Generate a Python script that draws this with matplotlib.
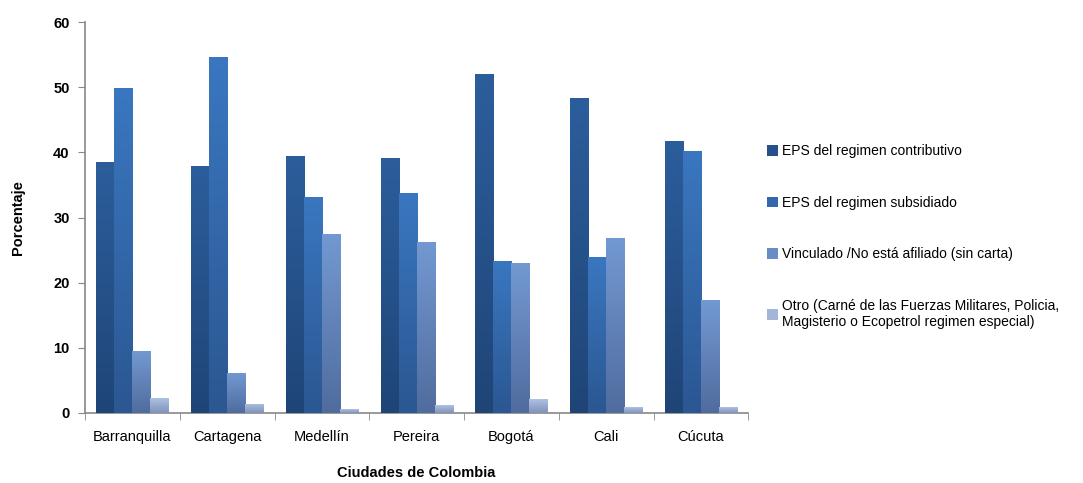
import numpy as np
import matplotlib
matplotlib.use("Agg")
import matplotlib.pyplot as plt
from matplotlib.colors import LinearSegmentedColormap
from matplotlib.patches import Patch

plt.rcParams['font.family'] = ['Liberation Sans', 'DejaVu Sans']

ciudades = ['Barranquilla', 'Cartagena', 'Medellín', 'Pereira', 'Bogotá', 'Cali', 'Cúcuta']
contributivo = [38.5, 37.9, 39.5, 39.1, 52.0, 48.4, 41.8]
subsidiado = [49.9, 54.6, 33.1, 33.8, 23.3, 23.9, 40.3]
vinculado = [9.5, 6.2, 27.5, 26.3, 23.0, 26.9, 17.3]
otro = [2.3, 1.4, 0.6, 1.2, 2.1, 0.9, 0.9]

series = [contributivo, subsidiado, vinculado, otro]
etiquetas = [
    'EPS del regimen contributivo',
    'EPS del regimen subsidiado',
    'Vinculado /No está afiliado (sin carta)',
    'Otro (Carné de las Fuerzas Militares, Policia,\nMagisterio o Ecopetrol regimen especial)',
]
# (color abajo, color arriba) para el degradado de cada serie
degradados = [
    ('#1f4577', '#2c5e9c'),
    ('#2b5792', '#3a77c0'),
    ('#506c9e', '#7399d2'),
    ('#8093b8', '#adc1e3'),
]
colores_leyenda = ['#26508a', '#3468ae', '#6a8cc4', '#a3b5d8']

fig = plt.figure(figsize=(10.83, 4.83), dpi=100)
ax = fig.add_axes([0.0785, 0.145, 0.6125, 0.809])

x = np.arange(len(ciudades))
ancho = 0.19
grad = np.linspace(0, 1, 256).reshape(-1, 1)

for i, (vals, (c0, c1)) in enumerate(zip(series, degradados)):
    cmap = LinearSegmentedColormap.from_list(f's{i}', [c0, c1])
    pos = x + (i - 1.5) * ancho
    barras = ax.bar(pos, vals, ancho, color=c1, linewidth=0, zorder=2)
    for b in barras:
        x0, w, h = b.get_x(), b.get_width(), b.get_height()
        im = ax.imshow(grad, cmap=cmap, origin='lower', aspect='auto',
                       extent=[x0, x0 + w, 0, h], zorder=3)
        im.set_clip_path(b)

ax.set_xlim(-0.5, len(ciudades) - 0.5)
ax.set_ylim(0, 60)
ax.set_yticks(range(0, 61, 10))
ax.set_xticks(x)
ax.set_xticklabels(ciudades, fontsize=10.5)
ax.set_xticks(np.arange(-0.5, len(ciudades)), minor=True)
ax.tick_params(axis='x', which='major', length=0, pad=12)
ax.tick_params(axis='x', which='minor', length=5, direction='out', color='#888888')
ax.tick_params(axis='y', length=5, direction='out', color='#888888', pad=6)
for t in ax.get_yticklabels():
    t.set_fontweight('bold')
    t.set_fontsize(10.5)

for lado in ['top', 'right']:
    ax.spines[lado].set_visible(False)
for lado in ['left', 'bottom']:
    ax.spines[lado].set_color('#888888')
    ax.spines[lado].set_linewidth(1.2)

ax.set_ylabel('Porcentaje', fontsize=10.5, fontweight='bold', labelpad=20)
ax.set_xlabel('Ciudades de Colombia', fontsize=10.5, fontweight='bold', labelpad=16)

handles = [Patch(facecolor=c, edgecolor='none') for c in colores_leyenda]
fig.legend(handles, etiquetas, loc='center left', bbox_to_anchor=(0.697, 0.51),
           frameon=False, fontsize=10, labelspacing=2.7, handlelength=0.8,
           handleheight=0.8, handletextpad=0.25)

fig.savefig('out.png', dpi=100)
